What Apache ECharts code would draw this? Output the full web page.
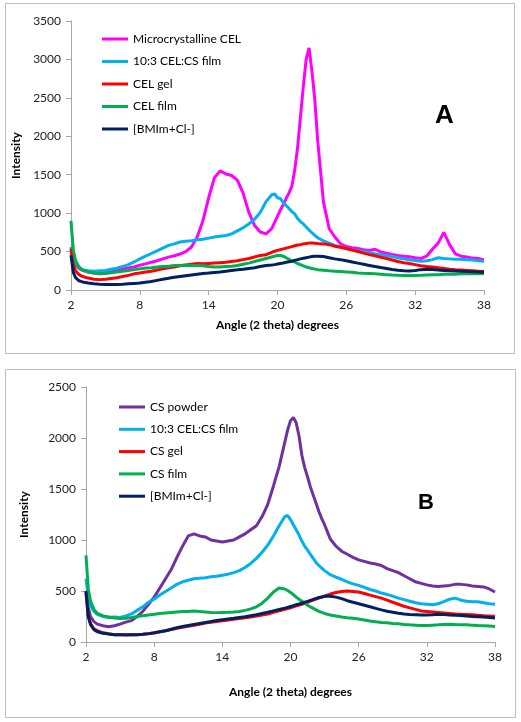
<!DOCTYPE html>
<html><head><meta charset="utf-8">
<script src="https://cdn.jsdelivr.net/npm/echarts@6/dist/echarts.min.js"></script>
<style>html,body{margin:0;padding:0;background:#fff}#c{width:521px;height:722px}</style>
</head><body><div id="c"></div>
<script>
// Shared 2-theta angles (degrees)
const angles = [2,2.2,2.4,2.7,3,
 3.5,4,4.5,5,5.5,6,6.5,7,7.5,8,8.5,9,9.5,10,10.5,11,11.5,12,12.5,13,13.5,14,14.5,15,15.5,16,16.5,17,17.5,18,18.5,19,19.5,
 19.75,20,20.25,20.5,20.75,21,21.25,21.5,21.75,22,22.25,22.5,22.75,23,23.25,23.5,
 24,24.5,25,25.5,26,26.5,27,27.5,28,28.5,29,29.5,30,30.5,31,31.5,32,32.5,33,33.5,34,34.5,35,35.5,36,36.5,37,37.5,38];

const xTicks = [2,8,14,20,26,32,38];

// Panel A
const namesA = ['Microcrystalline CEL','10:3 CEL:CS film','CEL gel','CEL film','[BMIm+Cl-]'];
const microCEL = [480,390,330,280,255,
 235,222,215,225,238,252,270,288,300,322,340,362,380,405,428,445,468,500,560,690,900,1200,1460,1550,1510,1490,1430,1260,1010,840,755,730,800,
 880,960,1040,1110,1190,1260,1350,1560,1850,2250,2650,3000,3150,2850,2480,1950,
 1150,800,690,600,565,550,540,525,515,530,495,480,462,450,440,432,420,410,440,530,610,750,590,470,440,430,415,410,390];
const celCsFilmA = [560,430,350,290,265,
 250,245,250,255,270,285,305,330,365,405,440,475,510,545,580,600,625,635,640,655,660,675,690,700,710,730,770,810,860,920,1010,1150,1240,
 1250,1200,1190,1140,1100,1060,1020,990,930,890,860,820,780,745,710,680,
 640,610,580,560,540,525,510,500,485,470,460,445,435,420,405,395,385,375,380,395,420,410,405,400,400,395,390,380,375];
const celGel = [540,330,250,200,175,
 155,140,135,140,150,160,175,190,210,220,235,245,260,275,290,300,315,325,335,345,340,345,350,355,360,370,380,395,410,430,450,460,490,
 505,515,525,535,545,555,565,575,585,590,600,605,610,610,608,605,
 600,590,570,555,540,520,500,480,460,445,425,410,390,370,355,345,330,315,305,300,290,280,270,262,260,255,250,245,240];
const celFilm = [900,520,380,300,260,
 235,220,210,215,225,235,245,255,265,275,285,290,300,305,310,318,320,322,318,320,315,305,300,300,305,310,320,335,350,370,390,410,430,
 440,450,450,440,420,400,380,365,345,330,315,300,290,280,272,265,
 258,250,245,240,235,230,222,218,215,210,205,200,195,192,190,188,190,192,195,198,200,205,205,205,210,210,212,212,215];
const bmimA = [450,230,160,120,105,
 90,80,75,72,70,72,75,80,85,90,100,110,125,140,152,165,175,185,195,205,215,220,228,235,245,255,262,270,280,290,305,318,325,
 330,338,345,352,360,368,375,385,395,405,412,420,428,435,440,440,
 435,420,405,395,380,365,350,335,320,305,292,280,268,258,250,248,255,265,270,268,260,255,250,248,245,240,238,235,232];

// Panel B
const namesB = ['CS powder','10:3 CEL:CS film','CS gel','CS film','[BMIm+Cl-]'];
const csPowder = [500,340,250,200,175,
 160,150,160,175,195,210,250,300,370,440,530,620,710,830,940,1040,1060,1040,1030,1000,990,980,990,1000,1030,1060,1100,1140,1230,1350,1530,1720,1960,
 2080,2170,2200,2150,2020,1830,1710,1620,1520,1440,1360,1280,1210,1150,1080,1010,
 940,890,860,830,805,790,775,765,750,720,700,680,650,620,590,575,560,550,545,550,555,565,565,560,550,545,540,520,490];
const celCsFilmB = [620,450,360,300,270,
 250,240,245,240,255,275,310,345,390,420,460,495,530,565,590,605,620,625,630,640,645,655,665,680,700,730,770,820,880,950,1040,1140,1230,
 1240,1200,1150,1100,1050,990,940,900,860,820,780,750,725,700,680,660,
 635,615,590,570,555,535,515,500,480,465,450,430,415,400,385,375,370,365,375,395,420,430,410,400,395,395,385,375,370];
const csGel = [480,260,180,130,110,
 90,80,72,70,68,70,72,75,80,88,100,110,122,135,145,155,165,175,185,193,200,208,215,222,230,238,245,255,265,275,290,305,320,
 328,335,345,355,362,370,380,390,400,410,420,430,440,450,460,470,
 485,495,500,495,490,475,460,445,430,410,390,370,350,335,320,305,300,295,290,285,280,275,272,270,268,262,258,255,250];
const csFilm = [850,520,400,320,280,
 255,245,235,230,232,240,250,258,265,272,280,285,290,295,300,300,305,300,295,290,288,290,292,295,300,310,325,345,380,430,490,530,520,
 505,485,465,440,420,400,380,360,345,330,315,300,290,280,272,265,
 255,245,238,232,225,215,205,198,192,188,182,178,172,168,165,162,162,165,168,172,175,172,170,168,165,162,160,156,152];
const bmimB = [500,250,170,120,100,
 85,78,72,70,70,70,72,75,82,90,100,110,125,140,152,162,172,182,192,200,210,218,225,232,240,248,258,268,280,292,305,318,332,
 340,348,356,365,372,380,390,398,408,418,428,436,442,448,450,448,
 440,425,405,390,375,360,345,330,315,302,292,282,275,270,268,265,265,268,272,270,265,262,260,255,250,248,245,240,235];

const colorsA = ['#FF00FF','#00B0F0','#FF0000','#00B050','#002060'];
const colorsB = ['#7030A0','#00B0F0','#FF0000','#00B050','#002060'];
const seriesA = [microCEL, celCsFilmA, celGel, celFilm, bmimA];
const seriesB = [csPowder, celCsFilmB, csGel, csFilm, bmimB];

const FONT = 'Lato';
const pair = arr => arr.map((v,i)=>[angles[i], v]);

function xAxisCfg(gi, gap){
  return {type:'value', gridIndex:gi, min:2, max:38, interval:6,
    name:'Angle (2 theta) degrees', nameLocation:'middle', nameGap:gap,
    nameTextStyle:{fontFamily:FONT, fontWeight:'bold', fontSize:12, color:'#000'},
    axisLine:{show:true, lineStyle:{color:'#a6a6a6', width:1}},
    axisTick:{show:true, length:5, lineStyle:{color:'#a6a6a6'}},
    axisLabel:{fontFamily:FONT, fontSize:12, color:'#222', margin:9, formatter:v=>String(v)},
    splitLine:{show:false}};
}
function yAxisCfg(gi, max, gap){
  return {type:'value', gridIndex:gi, min:0, max:max, interval:500,
    name:'Intensity', nameLocation:'middle', nameGap:gap,
    nameTextStyle:{fontFamily:FONT, fontWeight:'bold', fontSize:12, color:'#000'},
    axisLine:{show:true, lineStyle:{color:'#a6a6a6', width:1}},
    axisTick:{show:true, length:5, lineStyle:{color:'#a6a6a6'}},
    axisLabel:{fontFamily:FONT, fontSize:12, color:'#222', margin:10, formatter:v=>String(v)},
    splitLine:{show:false}};
}

const series = [];
namesA.forEach((n,i)=>series.push({name:n, type:'line', xAxisIndex:0, yAxisIndex:0, data:pair(seriesA[i]),
  showSymbol:false, symbol:'none', lineStyle:{color:colorsA[i], width:3}, itemStyle:{color:colorsA[i]}, animation:false}));
namesB.forEach((n,i)=>series.push({name:n, type:'line', xAxisIndex:1, yAxisIndex:1, data:pair(seriesB[i]),
  showSymbol:false, symbol:'none', lineStyle:{color:colorsB[i], width:3}, itemStyle:{color:colorsB[i]}, animation:false}));

function legendCfg(names, colors, left, top, gap){
  return {orient:'vertical', left:left, top:top, itemGap:gap, itemWidth:26, itemHeight:3, icon:'rect',
    selectedMode:false,
    data:names.map((n,i)=>({name:n, itemStyle:{color:colors[i]}})),
    textStyle:{fontFamily:FONT, fontSize:12, color:'#000', lineHeight:14}};
}

const chart = echarts.init(document.getElementById('c'), null, {renderer:'canvas'});
chart.setOption({
  animation:false,
  backgroundColor:'#fff',
  grid:[{left:71, right:37, top:21, bottom:432},
        {left:86, right:26, top:387, bottom:80}],
  xAxis:[xAxisCfg(0, 29), xAxisCfg(1, 44)],
  yAxis:[yAxisCfg(0, 3500, 42), yAxisCfg(1, 2500, 56)],
  legend:[legendCfg(namesA, colorsA, 97, 27, 8.5), legendCfg(namesB, colorsB, 114, 395, 8.3)],
  graphic:[
    {type:'rect', shape:{x:5.5, y:3.5, width:509, height:350}, style:{fill:'none', stroke:'#bfbfbf', lineWidth:1}, silent:true, z:-1},
    {type:'rect', shape:{x:5.5, y:369.5, width:510, height:348}, style:{fill:'none', stroke:'#bfbfbf', lineWidth:1}, silent:true, z:-1},
    {type:'text', left:435, top:103, style:{text:'A', fontFamily:'Liberation Sans', fontWeight:'bold', fontSize:26, fill:'#000'}},
    {type:'text', left:418, top:492, style:{text:'B', fontFamily:'Liberation Sans', fontWeight:'bold', fontSize:22, fill:'#000'}}
  ],
  series:series
});
</script></body></html>
